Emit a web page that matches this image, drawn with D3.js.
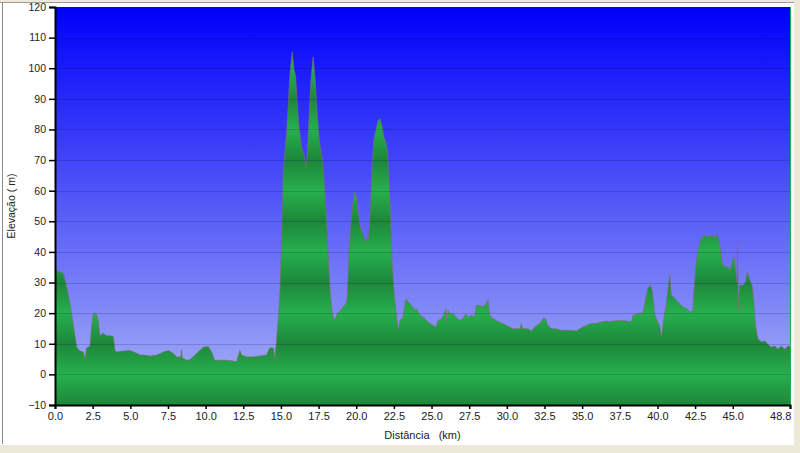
<!DOCTYPE html>
<html>
<head>
<meta charset="utf-8">
<script src="https://cdn.jsdelivr.net/npm/d3@7/dist/d3.min.js"></script>
<style>
  html, body { margin: 0; padding: 0; background: #ECE9D8; }
  svg { display: block; }
  .tick text { font-family: "Liberation Sans", Arial, sans-serif; fill: #222; }
</style>
</head>
<body>
<svg id="chart" width="800" height="453"></svg>
<script>
const distanceKm = [
  0.0, 0.1, 0.3, 0.55, 0.8, 1.0, 1.2, 1.44, 1.66, 1.88, 1.99, 2.1, 2.32, 2.43, 2.54, 2.72, 2.87, 2.98,
  3.2, 3.43, 3.65, 3.87, 3.98, 4.1, 4.53, 4.98, 5.42, 5.64, 5.86, 6.3, 6.75, 7.2, 7.53, 7.86, 8.08,
  8.35, 8.4, 8.45, 8.74, 8.96, 9.4, 9.84, 10.17, 10.4, 10.6, 10.95, 11.4, 11.83, 12.05, 12.27, 12.4,
  12.72, 13.16, 13.6, 14.05, 14.27, 14.5, 14.6, 14.71, 14.85, 14.93, 15.04, 15.15, 15.26, 15.37, 15.48,
  15.6, 15.75, 15.88, 15.98, 16.07, 16.2, 16.37, 16.52, 16.66, 16.75, 16.88, 16.99, 17.14, 17.28,
  17.41, 17.54, 17.69, 17.8, 17.92, 18.03, 18.14, 18.25, 18.36, 18.47, 18.58, 18.73, 18.91, 19.13,
  19.31, 19.4, 19.53, 19.68, 19.8, 19.9, 20.02, 20.13, 20.24, 20.35, 20.5, 20.64, 20.73, 20.81, 20.95,
  21.06, 21.17, 21.3, 21.46, 21.57, 21.7, 21.83, 21.96, 22.07, 22.18, 22.3, 22.4, 22.52, 22.63, 22.74,
  22.78, 22.9, 23.11, 23.29, 23.45, 23.67, 23.89, 24.0, 24.22, 24.44, 24.67, 24.89, 25.1, 25.28, 25.44,
  25.66, 25.8, 25.95, 26.0, 26.1, 26.2, 26.43, 26.65, 26.87, 27.09, 27.27, 27.42, 27.65, 27.87, 27.98,
  28.2, 28.42, 28.6, 28.75, 28.86, 29.08, 29.3, 29.53, 29.75, 29.97, 30.19, 30.41, 30.63, 30.86, 30.97,
  31.05, 31.19, 31.41, 31.63, 31.85, 32.18, 32.4, 32.56, 32.74, 32.96, 33.3, 33.62, 33.95, 34.29, 34.62,
  34.84, 35.06, 35.28, 35.61, 35.95, 36.17, 36.61, 36.83, 37.05, 37.49, 38.0, 38.27, 38.38, 38.7, 39.03,
  39.2, 39.36, 39.52, 39.65, 39.81, 39.97, 40.15, 40.26, 40.41, 40.59, 40.7, 40.81, 40.92, 41.07, 41.25,
  41.47, 41.69, 41.96, 42.18, 42.35, 42.44, 42.57, 42.73, 42.9, 43.13, 43.35, 43.57, 43.8, 43.95, 44.13,
  44.3, 44.46, 44.68, 44.83, 44.97, 45.08, 45.19, 45.28, 45.32, 45.36, 45.45, 45.68, 45.85, 45.96, 46.12,
  46.3, 46.4, 46.52, 46.67, 46.9, 47.12, 47.34, 47.56, 47.78, 48.0, 48.22, 48.45, 48.67, 48.8
];
const elevationM = [
  33.0, 34.0, 33.5, 33.0, 28.0, 23.0, 16.7, 8.9, 7.6, 7.3, 5.0, 8.6, 9.2, 15.5, 19.8, 20.0, 17.6, 12.7,
  13.4, 12.6, 12.6, 12.4, 7.8, 7.3, 7.6, 7.8, 6.9, 6.3, 6.3, 6.0, 6.3, 7.3, 7.8, 6.8, 5.7,
  5.7, 8.0, 5.4, 4.6, 4.8, 6.8, 8.9, 9.1, 7.3, 4.6, 4.6, 4.6, 4.4, 4.1, 7.8, 6.3,
  5.7, 5.7, 6.0, 6.3, 8.7, 8.5, 5.1, 11.0, 20.0, 26.0, 43.8, 65.6, 72.0, 78.7, 87.4,
  98.3, 105.3, 99.3, 97.2, 89.5, 80.8, 74.3, 72.1, 67.8, 72.0, 85.2, 96.0, 103.7, 96.0,
  85.2, 76.5, 72.0, 67.8, 60.1, 49.3, 39.4, 28.5, 22.0, 18.7, 17.6, 19.8, 20.7, 22.0,
  23.1, 24.6, 41.6, 51.4, 56.9, 59.6, 57.9, 52.5, 48.7, 47.0, 44.9, 43.2, 44.9, 43.8, 54.7,
  67.8, 76.5, 79.7, 83.0, 83.5, 81.4, 77.6, 75.9, 73.2, 63.4, 48.1, 35.0, 26.4, 21.0, 16.6,
  14.4, 17.6, 18.7, 24.7, 23.6, 22.5, 20.9, 21.4, 19.3, 18.7, 17.6, 16.6, 16.0, 15.5, 17.6,
  18.2, 19.3, 21.4, 17.0, 20.9, 19.8, 19.8, 18.7, 17.6, 18.2, 19.8, 18.7, 19.3, 18.7, 22.5,
  22.5, 22.0, 23.0, 24.2, 19.3, 18.2, 17.6, 17.0, 16.6, 16.0, 15.5, 14.9, 14.9, 14.9, 16.6,
  14.9, 14.9, 14.9, 14.2, 15.5, 16.6, 18.2, 18.2, 16.0, 14.9, 14.9, 14.4, 14.4, 14.4, 14.2,
  14.9, 15.5, 16.0, 16.6, 16.6, 17.0, 17.4, 17.2, 17.4, 17.6, 17.4, 17.1, 19.3, 19.8, 20.1,
  24.2, 28.0, 29.1, 27.4, 19.8, 17.6, 16.0, 12.2, 17.6, 23.1, 28.0, 32.4, 25.8, 25.3, 24.2,
  23.1, 22.0, 21.4, 20.3, 20.8, 28.5, 36.2, 41.6, 44.3, 45.4, 44.9, 45.4, 44.9, 45.8, 42.7,
  36.2, 35.1, 35.1, 34.0, 37.3, 38.3, 34.0, 30.0, 43.2, 20.9, 29.1, 29.1, 30.1, 33.4, 31.1,
  28.5, 23.1, 15.5, 11.7, 10.6, 10.9, 9.8, 8.9, 9.3, 8.2, 9.3, 8.2, 9.3, 9.0
];
const yTicks = [-10, 0, 10, 20, 30, 40, 50, 60, 70, 80, 90, 100, 110, 120];
const xTicks = [0, 2.5, 5, 7.5, 10, 12.5, 15, 17.5, 20, 22.5, 25, 27.5, 30, 32.5, 35, 37.5, 40, 42.5, 45, 48.8];
const xTitle = "Distância\u00a0\u00a0\u00a0(km)";
const yTitle = "Elevação ( m)";

const svg = d3.select("#chart");
const W = 800, H = 453;
const plot = { left: 55, right: 790, top: 7, bottom: 405 };

const x = d3.scaleLinear().domain([0, 48.8]).range([plot.left, plot.right]);
const y = d3.scaleLinear().domain([-10, 120]).range([plot.bottom, plot.top]);

const data = distanceKm.map((d, i) => [d, elevationM[i]]);

// window frame
svg.append("rect").attr("x", 0).attr("y", 0).attr("width", W).attr("height", H).attr("fill", "#ECE9D8");
svg.append("rect").attr("x", 0).attr("y", 3).attr("width", 794).attr("height", 442).attr("fill", "#ffffff");
svg.append("line").attr("x1", 0).attr("x2", 794).attr("y1", 2.5).attr("y2", 2.5).attr("stroke", "#9a9a9a");
svg.append("line").attr("x1", 2.5).attr("x2", 2.5).attr("y1", 3).attr("y2", 444).attr("stroke", "#8a8a8a");

const defs = svg.append("defs");
const bg = defs.append("linearGradient").attr("id", "bgGrad")
  .attr("gradientUnits", "userSpaceOnUse")
  .attr("x1", 0).attr("x2", 0).attr("y1", plot.top).attr("y2", plot.bottom);
bg.append("stop").attr("offset", 0).attr("stop-color", "#0000FA");
bg.append("stop").attr("offset", 1).attr("stop-color", "#AAB4F6");

const gg = defs.append("linearGradient").attr("id", "greenGrad")
  .attr("gradientUnits", "userSpaceOnUse")
  .attr("spreadMethod", "reflect")
  .attr("x1", 0).attr("x2", 0).attr("y1", y(0)).attr("y2", y(10));
gg.append("stop").attr("offset", 0).attr("stop-color", "#26B04E");
gg.append("stop").attr("offset", 1).attr("stop-color", "#1D873A");

// plot background
svg.append("rect")
  .attr("x", plot.left).attr("y", plot.top)
  .attr("width", plot.right - plot.left).attr("height", plot.bottom - plot.top)
  .attr("fill", "url(#bgGrad)");

// area
const area = d3.area().x(d => x(d[0])).y0(y(-10)).y1(d => y(d[1]));
const line = d3.line().x(d => x(d[0])).y(d => y(d[1]));
svg.append("path").datum(data).attr("d", area).attr("fill", "url(#greenGrad)");
svg.append("path").datum(data).attr("d", line)
  .attr("fill", "none").attr("stroke", "#7a6e68").attr("stroke-width", 0.9).attr("stroke-opacity", 0.75);

// gridlines
svg.append("g").selectAll("line").data(yTicks.filter(t => t > -10 && t < 120)).join("line")
  .attr("x1", plot.left).attr("x2", plot.right)
  .attr("y1", d => Math.round(y(d)) + 0.5).attr("y2", d => Math.round(y(d)) + 0.5)
  .attr("stroke", "#000030").attr("stroke-opacity", 0.17);

// right edge line
svg.append("line").attr("x1", plot.right + 0.5).attr("x2", plot.right + 0.5)
  .attr("y1", plot.top).attr("y2", plot.bottom).attr("stroke", "#22B04A");

// axes
const yAxis = svg.append("g").attr("transform", `translate(${plot.left},0)`)
  .call(d3.axisLeft(y).tickValues(yTicks).tickFormat(d3.format("d")).tickSize(6).tickPadding(3));
const xAxis = svg.append("g").attr("transform", `translate(0,${plot.bottom})`)
  .call(d3.axisBottom(x).tickValues(xTicks).tickFormat(d3.format(".1f")).tickSize(4).tickPadding(3));
yAxis.selectAll(".tick text").attr("font-size", 10.5);
xAxis.selectAll(".tick text").attr("font-size", 11);
xAxis.selectAll(".tick text").filter(d => d === 48.8).attr("text-anchor", "end").attr("dx", 1);
[yAxis, xAxis].forEach(a => {
  a.select(".domain").attr("stroke", "#000").attr("stroke-width", 2);
  a.selectAll(".tick line").attr("stroke", "#000").attr("stroke-width", 1.5);
});

svg.append("text").attr("x", (plot.left + plot.right) / 2).attr("y", 439)
  .attr("text-anchor", "middle")
  .attr("font-family", "Liberation Sans, Arial, sans-serif").attr("font-size", 11).attr("fill", "#222")
  .text(xTitle);
svg.append("text").attr("transform", `translate(15,${(plot.top + plot.bottom) / 2}) rotate(-90)`)
  .attr("text-anchor", "middle")
  .attr("font-family", "Liberation Sans, Arial, sans-serif").attr("font-size", 10.5).attr("fill", "#222")
  .text(yTitle);
</script>
</body>
</html>
